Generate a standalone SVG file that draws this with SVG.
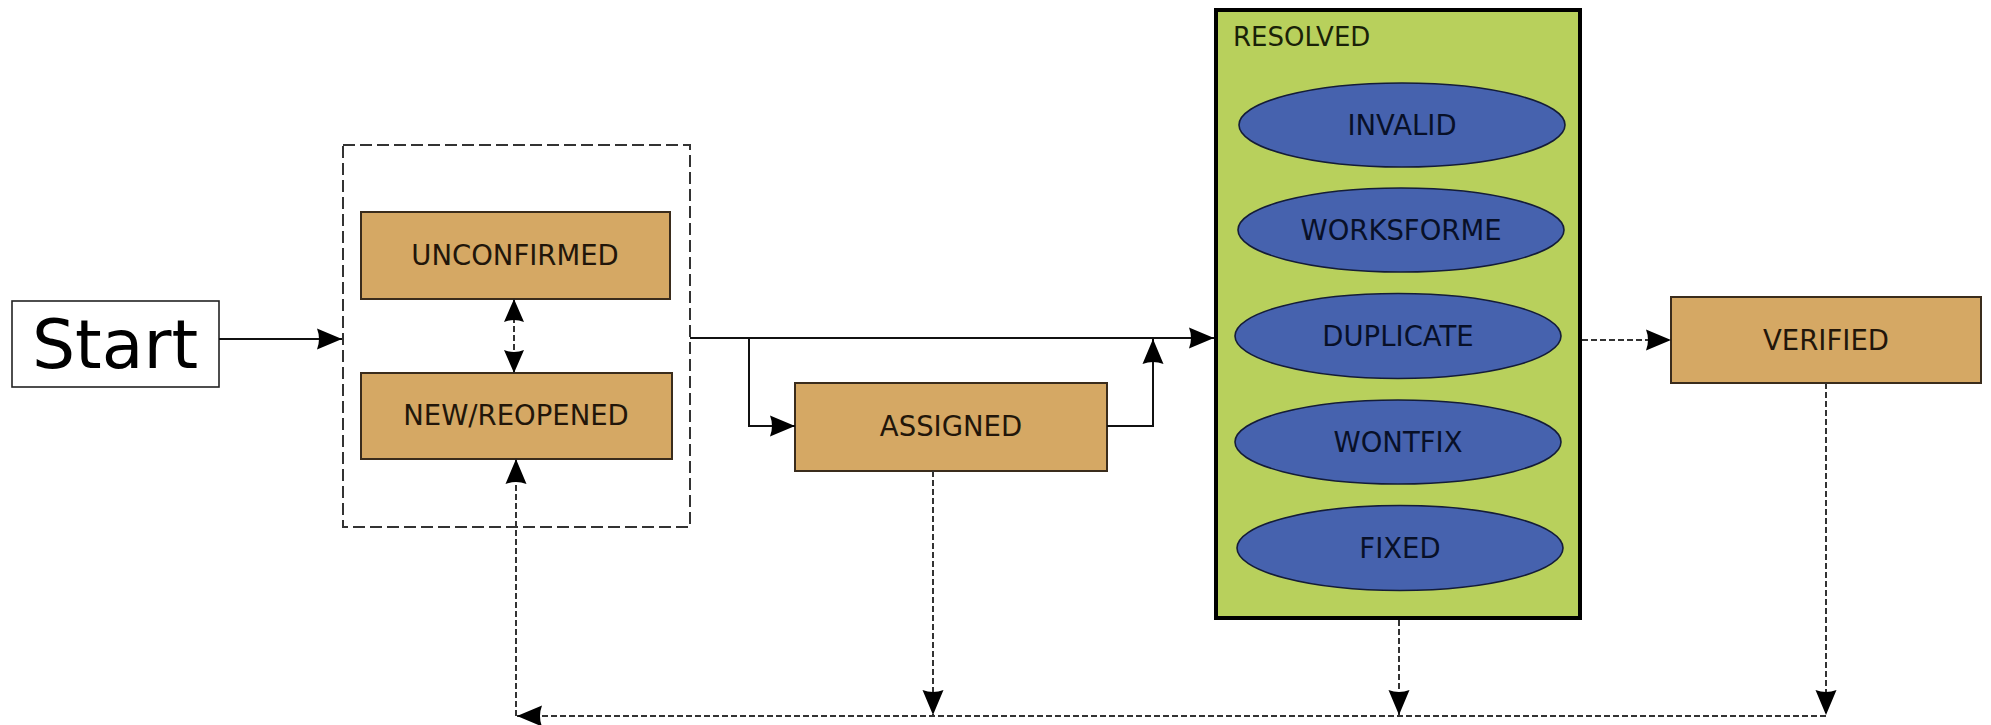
<svg xmlns="http://www.w3.org/2000/svg" width="1991" height="725" viewBox="0 0 1991 725">
<style>
.lbl{font-family:"DejaVu Sans","Liberation Sans",sans-serif;font-size:27.5px;text-anchor:middle;fill:#22160a}
.elbl{font-family:"DejaVu Sans","Liberation Sans",sans-serif;font-size:27.5px;text-anchor:middle;fill:#081028}
.state{fill:#d5a864;stroke:#3a2c1c;stroke-width:2}
.res{fill:#4662ae;stroke:#141c38;stroke-width:1.6}
.solid{fill:none;stroke:#111;stroke-width:2}
.dash{fill:none;stroke:#333;stroke-width:2;stroke-dasharray:6 3}
</style>
<defs>
<marker id="ah" markerUnits="userSpaceOnUse" markerWidth="28" markerHeight="24" viewBox="-27 -12 28 24" refX="0" refY="0" orient="auto">
<path d="M0,0 L-25,-10.5 Q-21,0 -25,10.5 Z" fill="#000"/>
</marker>
<marker id="ahs" markerUnits="userSpaceOnUse" markerWidth="28" markerHeight="24" viewBox="-27 -12 28 24" refX="0" refY="0" orient="auto-start-reverse">
<path d="M0,0 L-23,-10 Q-19,0 -23,10 Z" fill="#000"/>
</marker>
</defs>
<rect width="1991" height="725" fill="#fff"/>

<g id="start">
<rect x="12" y="301" width="207" height="86" fill="#fff" stroke="#222" stroke-width="1.6"/>
<text x="115" y="368" font-family="DejaVu Sans, Liberation Sans, sans-serif" font-size="68" text-anchor="middle" fill="#000">Start</text>
</g>

<g id="open-group">
<rect x="343" y="145" width="347" height="382" fill="none" stroke="#333" stroke-width="2" stroke-dasharray="12 5"/>
</g>

<g id="unconfirmed">
<rect class="state" x="361" y="212" width="309" height="87"/>
<text class="lbl" x="515" y="265">UNCONFIRMED</text>
</g>

<g id="new-reopened">
<rect class="state" x="361" y="373" width="311" height="86"/>
<text class="lbl" x="516" y="425">NEW/REOPENED</text>
</g>

<g id="assigned">
<rect class="state" x="795" y="383" width="312" height="88"/>
<text class="lbl" x="951" y="436">ASSIGNED</text>
</g>

<g id="resolved">
<rect x="1216" y="10" width="364" height="608" fill="#b8d05c" stroke="#000" stroke-width="4"/>
<text x="1233" y="46" font-family="DejaVu Sans, Liberation Sans, sans-serif" font-size="26" fill="#1a2208">RESOLVED</text>
</g>

<g id="invalid">
<ellipse class="res" cx="1402" cy="125" rx="163" ry="42"/>
<text class="elbl" x="1402" y="134.5">INVALID</text>
</g>
<g id="worksforme">
<ellipse class="res" cx="1401" cy="230" rx="163" ry="42"/>
<text class="elbl" x="1401" y="239.5">WORKSFORME</text>
</g>
<g id="duplicate">
<ellipse class="res" cx="1398" cy="336" rx="163" ry="42.5"/>
<text class="elbl" x="1398" y="345.5">DUPLICATE</text>
</g>
<g id="wontfix">
<ellipse class="res" cx="1398" cy="442" rx="163" ry="42"/>
<text class="elbl" x="1398" y="451.5">WONTFIX</text>
</g>
<g id="fixed">
<ellipse class="res" cx="1400" cy="548" rx="163" ry="42.5"/>
<text class="elbl" x="1400" y="557.5">FIXED</text>
</g>

<g id="verified">
<rect class="state" x="1671" y="297" width="310" height="86"/>
<text class="lbl" x="1826" y="349.5">VERIFIED</text>
</g>

<g id="connectors">
<path class="solid" d="M219,339 H342" marker-end="url(#ah)"/>
<path class="dash" d="M514,299 V373" marker-start="url(#ahs)" marker-end="url(#ahs)"/>
<path class="solid" d="M690,338 H1214" marker-end="url(#ah)"/>
<path class="solid" d="M749,338 V426 H795" marker-end="url(#ah)"/>
<path class="solid" d="M1107,426 H1153 V339" marker-end="url(#ah)"/>
<path class="dash" d="M1582,340 H1671" marker-end="url(#ah)"/>
<path class="dash" d="M933,471 V715" marker-end="url(#ah)"/>
<path class="dash" d="M1399,620 V715" marker-end="url(#ah)"/>
<path class="dash" d="M1826,383 V715" marker-end="url(#ah)"/>
<path class="dash" d="M1826,716 H517" marker-end="url(#ah)"/>
<path class="dash" d="M516,716 V459" marker-end="url(#ah)"/>
</g>
</svg>
